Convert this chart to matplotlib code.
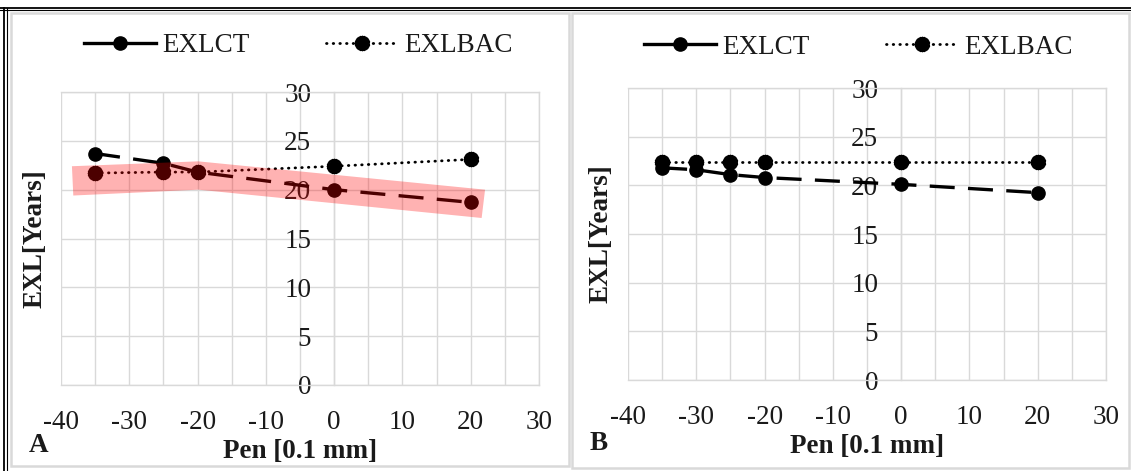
import numpy as np
import matplotlib
matplotlib.use("Agg")
import matplotlib.pyplot as plt
from matplotlib.lines import Line2D
from matplotlib.patches import Rectangle, Polygon

plt.rcParams['font.family'] = ['Liberation Serif', 'DejaVu Serif']

# ---------------- data ----------------
pen_a = [-35, -25, -20, 0, 20]
exlct_a = [23.7, 22.7, 21.8, 20.0, 18.7]
exlbac_a = [21.7, 21.8, 21.8, 22.4, 23.1]

pen_b = [-35, -30, -25, -20, 0, 20]
exlct_b = [21.8, 21.6, 21.1, 20.8, 20.1, 19.25]
exlbac_b = [22.4, 22.4, 22.4, 22.4, 22.4, 22.4]

# highlight band (panel A), two quadrilaterals in data coordinates
band_left_x = [-38.4, -19.9, -19.9, -38.2]
band_left_y = [22.4, 22.9, 20.0, 19.4]
band_right_x = [-19.9, 22.1, 21.6, -19.9]
band_right_y = [22.9, 20.0, 17.1, 20.0]

xticks = [-40, -30, -20, -10, 0, 10, 20, 30]
yticks = [0, 5, 10, 15, 20, 25, 30]
panel_labels = ['A', 'B']

TXT = '#1a1a1a'
GRID = '#d9d9d9'
FS = 19.5

# gear-like marker (circle with dotted border look)
n = 28
ang = np.linspace(0, 2 * np.pi, 2 * n, endpoint=False)
rad = np.where(np.arange(2 * n) % 2 == 0, 1.0, 0.82)
gear = list(zip(rad * np.cos(ang), rad * np.sin(ang)))

fig = plt.figure(figsize=(11.31, 4.71), dpi=100)
W, H = 1131, 471

def fx(px):
    return px / W

def fy(py):
    return 1 - py / H

# panel borders
fig.patches.append(Rectangle((fx(11), fy(466)), fx(569) - fx(11), fy(13) - fy(466),
                             transform=fig.transFigure, fill=False, ec=GRID, lw=1.8))
fig.patches.append(Rectangle((fx(572), fy(468)), fx(1129) - fx(572), fy(13) - fy(468),
                             transform=fig.transFigure, fill=False, ec=GRID, lw=1.8))
# outer black double frame (top + left)
for off, lw in ((0, 1.3), (2.4, 0.8)):
    fig.lines.append(Line2D([0, 1], [fy(7.5 + off)] * 2, transform=fig.transFigure,
                            color='black', lw=lw))
    fig.lines.append(Line2D([fx(4.3 + off)] * 2, [0, fy(7.5)], transform=fig.transFigure,
                            color='black', lw=lw))

axes_rects = [
    [fx(61), fy(385), fx(539) - fx(61), fy(92) - fy(385)],
    [fx(628), fy(380), fx(1106) - fx(628), fy(88) - fy(380)],
]
data = [(pen_a, exlct_a, exlbac_a), (pen_b, exlct_b, exlbac_b)]
legend_anchor = [(0.497, 1.157), (0.482, 1.140)]
label_pos = [(39, 446), (599, 444)]

for i, rect in enumerate(axes_rects):
    ax = fig.add_axes(rect)
    x, y1, y2 = data[i]
    ax.set_xlim(-40, 30)
    ax.set_ylim(0, 30)
    ax.set_xticks(xticks)
    ax.set_yticks(yticks)
    ax.set_xticks(np.arange(-40, 31, 5), minor=True)
    ax.grid(True, which='both', color=GRID, lw=1.0)
    ax.set_axisbelow(True)
    for s in ax.spines.values():
        s.set_color(GRID)
        s.set_linewidth(1.0)
    ax.spines['left'].set_position(('data', 0))
    ax.tick_params(axis='both', which='both', length=0, labelsize=FS, colors=TXT)
    ax.tick_params(axis='x', pad=18)
    ax.tick_params(axis='y', pad=16.5)
    ax.set_xticklabels([f'{v}' for v in xticks])

    ax.plot(x, y1, color='black', lw=2.4, dashes=(7.5, 4), marker='o', ms=9.5,
            zorder=3)
    ax.plot(x, y2, color='black', lw=2.0, linestyle=(0, (0.2, 2.2)),
            dash_capstyle='round', marker=gear, ms=10.5, zorder=3)

    ax.set_xlabel('Pen [0.1 mm]', fontsize=FS, fontweight='bold', color=TXT)
    ax.xaxis.set_label_coords(0.5, -0.185)
    ax.set_ylabel('EXL[Years]', fontsize=FS, fontweight='bold', color=TXT)
    ax.yaxis.set_label_coords(-14 / 478, 0.5)

    h1 = Line2D([], [], color='black', lw=2.4, marker='o', ms=9.5)
    h2 = Line2D([], [], color='black', lw=2.0, linestyle=(0, (0.2, 2.2)),
                dash_capstyle='round', marker=gear, ms=10.5)
    ax.legend([h1, h2], ['EXLCT', 'EXLBAC'], loc='center',
              bbox_to_anchor=legend_anchor[i], ncol=2, frameon=False,
              fontsize=FS, handlelength=2.65, handletextpad=0.25,
              columnspacing=2.8, labelcolor=TXT)

    if i == 0:
        for bx, by in ((band_left_x, band_left_y), (band_right_x, band_right_y)):
            ax.add_patch(Polygon(list(zip(bx, by)), closed=True, fc='red',
                                 ec='none', alpha=0.3, zorder=4))

    fig.text(fx(label_pos[i][0]), fy(label_pos[i][1]), panel_labels[i],
             fontsize=FS, fontweight='bold', color=TXT, ha='center', va='center')

fig.savefig('out.png', dpi=100)
